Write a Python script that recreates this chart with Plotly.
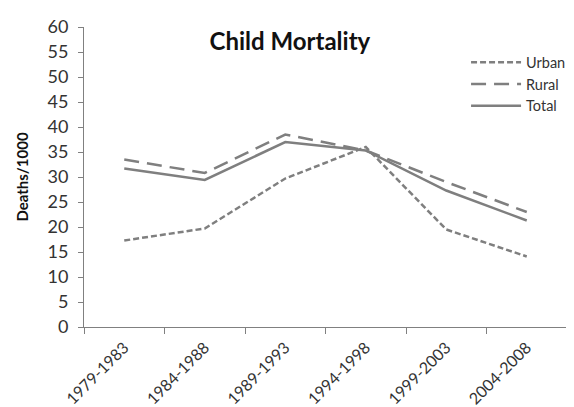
import plotly.graph_objects as go

periods = ["1979-1983", "1984-1988", "1989-1993", "1994-1998", "1999-2003", "2004-2008"]
urban = [17.3, 19.7, 29.7, 36.0, 19.5, 14.1]
rural = [33.5, 30.8, 38.5, 35.3, 29.0, 23.0]
total = [31.7, 29.4, 37.0, 35.3, 27.3, 21.3]

grey = "#7f7f7f"
font_family = "Lato, 'Open Sans', sans-serif"

fig = go.Figure()
fig.add_trace(go.Scatter(x=periods, y=urban, name="Urban", mode="lines",
                         line=dict(color=grey, width=2.5, dash="6px,3px")))
fig.add_trace(go.Scatter(x=periods, y=rural, name="Rural", mode="lines",
                         line=dict(color=grey, width=2.5, dash="15px,8px")))
fig.add_trace(go.Scatter(x=periods, y=total, name="Total", mode="lines",
                         line=dict(color=grey, width=2.5)))

# page body adds an 8px margin, so the figure is sized 566x399
fig.update_layout(
    width=566, height=399,
    margin=dict(l=76, r=7, t=19, b=80, autoexpand=False),
    paper_bgcolor="white", plot_bgcolor="white",
    font=dict(family=font_family, color="#333333", size=14),
    title=dict(text="<b>Child Mortality</b>", x=0.498, xanchor="center", xref="container",
               y=0.915, yanchor="middle", yref="container",
               font=dict(size=24, color="#111111")),
    legend=dict(x=0.791, y=0.936, xanchor="left", yanchor="top",
                bgcolor="rgba(0,0,0,0)", font=dict(size=14.5, color="#333333"),
                itemwidth=50, tracegroupgap=0),
    showlegend=True,
)
fig.update_xaxes(type="category", tickson="boundaries", ticks="outside", ticklen=6,
                 tickcolor="#808080", showline=True, linecolor="#808080", linewidth=1,
                 showgrid=False, tickangle=-45, tickfont=dict(size=16, color="#333333"),
                 ticklabelstandoff=4, range=[-0.5, 5.5], automargin=False)
fig.update_yaxes(range=[0, 60], dtick=5, ticks="outside", ticklen=5, tickcolor="#808080",
                 showline=True, linecolor="#808080", linewidth=1, showgrid=False,
                 zeroline=False, tickfont=dict(size=18, color="#333333"), automargin=False,
                 ticklabelstandoff=6,
                 title=dict(text="<b>Deaths/1000</b>", font=dict(size=15, color="#111111")))

fig.write_html("out.html")
